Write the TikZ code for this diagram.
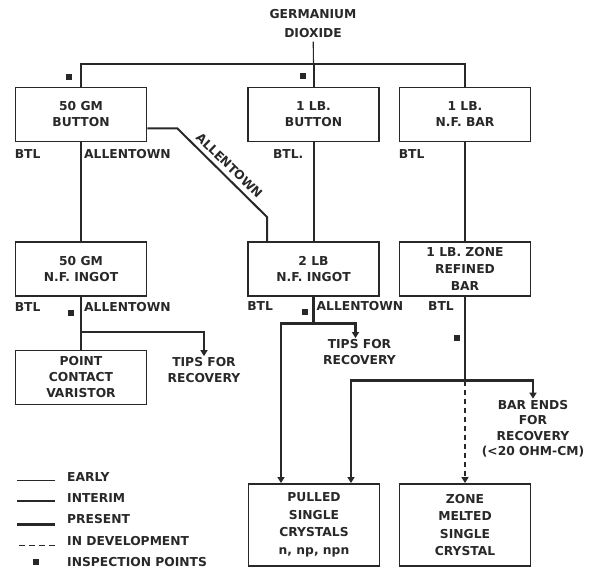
\documentclass[tikz,border=0pt]{standalone}
\usepackage{fontspec}
\setmainfont{DejaVu Sans}
\usepackage{tikz}
\usetikzlibrary{arrows.meta,positioning}
\definecolor{inkgray}{RGB}{40,40,40}
\tikzset{
  unit/.style={draw=inkgray, line width=1.9pt, minimum width=131pt,
    minimum height=54pt, align=center, inner sep=2pt},
  early/.style={draw=inkgray, line width=1.1pt},
  interim/.style={draw=inkgray, line width=2pt},
  present/.style={draw=inkgray, line width=2.9pt},
  develop/.style={draw=inkgray, line width=1.9pt, dash pattern=on 5pt off 4pt},
  feed/.style={-{Triangle[length=6pt,width=7pt]}},
  site/.style={inner sep=0pt},
  note/.style={align=center, inner sep=1pt},
  inspect/.style={fill=inkgray, inner sep=0pt, minimum size=5.5pt}
}

\begin{document}
\begin{tikzpicture}[x=1pt, y=-1pt, inkgray, font=\fontsize{12.3}{16}\selectfont\bfseries]
    \useasboundingbox (0,0) rectangle (598,569);
    % source
    \node[align=center, font=\fontsize{12.3}{19}\selectfont\bfseries] (ge) at (313,24) {GERMANIUM\\DIOXIDE};
    % first stage
    \node[unit] (button50) at (81,114.5) {50 GM\\BUTTON};
    \node[unit] (button1) at (313.5,114.5) {1 LB.\\BUTTON};
    \node[unit] (barnf) at (465,114.5) {1 LB.\\N.F. BAR};
    % second stage
    \node[unit] (ingot50) at (81,269) {50 GM\\N.F. INGOT};
    \node[unit] (ingot2) at (313.5,269) {2 LB\\N.F. INGOT};
    \node[unit, font=\fontsize{12.3}{17}\selectfont\bfseries] (zonebar) at (465,269) {1 LB. ZONE\\REFINED\\BAR};
    % products
    \node[unit] (varistor) at (81,377.5) {POINT\\CONTACT\\VARISTOR};
    \node[unit, minimum height=82pt, font=\fontsize{12.3}{17.5}\selectfont\bfseries] (pulled) at (314,525)
      {PULLED\\SINGLE\\CRYSTALS\\n, np, npn};
    \node[unit, minimum height=82pt, font=\fontsize{12.3}{17.5}\selectfont\bfseries] (melted) at (465,525)
      {ZONE\\MELTED\\SINGLE\\CRYSTAL};
    \node[note] (tips50) at (204,370) {TIPS FOR\\RECOVERY};
    \node[note] (tips2) at (359.5,352) {TIPS FOR\\RECOVERY};
    \node[note, font=\fontsize{12.3}{15.5}\selectfont\bfseries] (barends) at (533,428.5)
      {BAR ENDS\\FOR\\RECOVERY\\(<20 OHM-CM)};

    % feed from the dioxide
    \coordinate (fork) at (313.5,64);
    \draw[early] (ge) -- (fork);
    \draw[early] (fork) -| (button50.north);
    \draw[interim] (fork) -- (button1);
    \draw[present] (fork) -| (barnf.north);

    % first to second stage
    \draw[interim] (button50) -- (ingot50);
    \draw[interim] ([yshift=-14pt]button50.east) -- ++(30,0)
      -- node[site, midway, rotate=-44, anchor=south, inner sep=4.5pt] (allslant) {ALLENTOWN}
      ([xshift=20pt,yshift=24pt]ingot2.north west)
      -- ([xshift=20pt]ingot2.north west);
    \draw[interim] (button1) -- (ingot2);
    \draw[present] (barnf) -- (zonebar);

    % second stage to products
    \coordinate (tap50) at ([yshift=-35pt]ingot50.south);
    \draw[interim] (ingot50) -- (varistor);
    \draw[interim, feed] (tap50) -| (tips50.north);
    \coordinate (tap2) at ([yshift=-27pt]ingot2.south);
    \draw[present] (ingot2) -- (tap2);
    \draw[present, feed] (tap2) -| ([xshift=-33pt]pulled.north);
    \draw[present, feed] (tap2) -| ([xshift=-4pt]tips2.north);
    \coordinate (tapz) at ([yshift=-84pt]zonebar.south);
    \draw[present] (zonebar) -- (tapz);
    \draw[present, feed] (tapz) -| ([xshift=37pt]pulled.north);
    \draw[present, feed] (tapz) -| (barends.north);
    \draw[develop, feed] (tapz) -- (melted);

    % plant labels
    \node[site, below right=6.5pt and 0pt of button50.south west] (btl1) {BTL};
    \node[site, below right=6.5pt and 3pt of button50.south] (all1) {ALLENTOWN};
    \node[site, below left=6.5pt and 10pt of button1.south] (btl2) {BTL.};
    \node[site, below right=6.5pt and 0pt of barnf.south west] (btl3) {BTL};
    \node[site, below right=5pt and 0pt of ingot50.south west] (btl4) {BTL};
    \node[site, below right=5pt and 3pt of ingot50.south] (all2) {ALLENTOWN};
    \node[site, below right=4pt and 0pt of ingot2.south west] (btl5) {BTL};
    \node[site, below right=4pt and 3pt of ingot2.south] (all3) {ALLENTOWN};
    \node[site, below left=4pt and 11pt of zonebar.south] (btl6) {BTL};

    % inspection points
    \node[inspect] (chk1) at (69,77) {};
    \node[inspect] (chk2) at (303,76) {};
    \node[inspect] (chk3) at (71,313) {};
    \node[inspect] (chk4) at (305,312) {};
    \node[inspect] (chk5) at (457,338) {};

    % legend
    \node[site, anchor=west] (lgearly) at (67,477) {EARLY};
    \node[site, anchor=west] (lginterim) at (67,498) {INTERIM};
    \node[site, anchor=west] (lgpresent) at (67,519) {PRESENT};
    \node[site, anchor=west] (lgdevelop) at (67,541) {IN DEVELOPMENT};
    \node[site, anchor=west] (lginspect) at (67,562) {INSPECTION POINTS};
    \draw[early] ([xshift=-12pt,yshift=1pt]lgearly.base west) -- ++(-38,0);
    \draw[interim] ([xshift=-12pt,yshift=1pt]lginterim.base west) -- ++(-38,0);
    \draw[present] ([xshift=-12pt,yshift=-1pt]lgpresent.base west) -- ++(-38,0);
    \draw[develop, dash pattern=on 6pt off 4pt] ([xshift=-12pt]lgdevelop.base west) -- ++(-38,0);
    \node[inspect, left=28pt of lginspect] (chk6) {};
\end{tikzpicture}
\end{document}
